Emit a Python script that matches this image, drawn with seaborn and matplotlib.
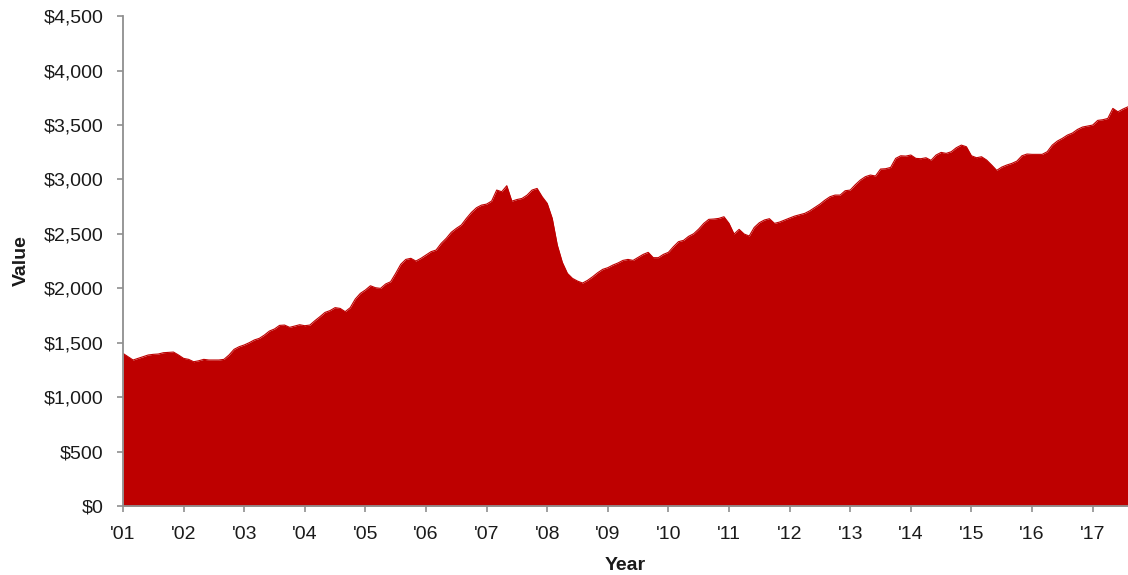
import numpy as np
import pandas as pd
import matplotlib
matplotlib.use("Agg")
import matplotlib.pyplot as plt
import seaborn as sns
from matplotlib.ticker import FuncFormatter

sns.set_style("white")
plt.rcParams["font.family"] = ["Liberation Sans", "DejaVu Sans"]

# monthly values, Jan 2001 .. Aug 2017
v2001 = [1402, 1371, 1341, 1356, 1371, 1387, 1393, 1396, 1408, 1411, 1414, 1387]
v2002 = [1356, 1347, 1325, 1334, 1347, 1341, 1341, 1341, 1347, 1387, 1439, 1463]
v2003 = [1479, 1500, 1525, 1540, 1570, 1607, 1626, 1659, 1662, 1641, 1653, 1665]
v2004 = [1656, 1662, 1702, 1739, 1778, 1795, 1822, 1815, 1785, 1822, 1901, 1953]
v2005 = [1984, 2023, 2005, 1999, 2039, 2060, 2137, 2220, 2265, 2275, 2250, 2275]
v2006 = [2305, 2336, 2351, 2412, 2458, 2514, 2550, 2581, 2642, 2697, 2740, 2764]
v2007 = [2773, 2801, 2902, 2887, 2942, 2800, 2815, 2825, 2855, 2902, 2917, 2841]
v2008 = [2780, 2642, 2397, 2238, 2137, 2091, 2066, 2048, 2073, 2106, 2143, 2174]
v2009 = [2189, 2213, 2232, 2256, 2265, 2256, 2284, 2311, 2330, 2281, 2281, 2311]
v2010 = [2330, 2382, 2428, 2440, 2477, 2501, 2544, 2596, 2633, 2636, 2642, 2657]
v2011 = [2596, 2498, 2541, 2498, 2480, 2559, 2602, 2627, 2639, 2596, 2608, 2627]
v2012 = [2645, 2663, 2676, 2688, 2712, 2743, 2773, 2810, 2841, 2856, 2856, 2896]
v2013 = [2902, 2951, 2994, 3025, 3040, 3031, 3095, 3098, 3110, 3193, 3217, 3214]
v2014 = [3224, 3193, 3190, 3199, 3175, 3224, 3248, 3239, 3254, 3291, 3315, 3300]
v2015 = [3217, 3199, 3208, 3178, 3132, 3083, 3113, 3132, 3147, 3168, 3217, 3233]
v2016 = [3230, 3230, 3230, 3254, 3315, 3352, 3377, 3407, 3426, 3459, 3481, 3490]
v2017 = [3499, 3542, 3548, 3560, 3652, 3621, 3646, 3667]

values = (v2001 + v2002 + v2003 + v2004 + v2005 + v2006 + v2007 + v2008 + v2009
          + v2010 + v2011 + v2012 + v2013 + v2014 + v2015 + v2016 + v2017)
tick_years = list(range(2001, 2018))
tick_labels = ["'%02d" % (y % 100) for y in tick_years]
y_ticks = list(range(0, 4501, 500))

df = pd.DataFrame({"year": 2001 + np.arange(len(values)) / 12, "value": values})

red = "#BE0000"
axis_gray = "#8f8f8f"

fig = plt.figure(figsize=(11.28, 5.75), dpi=100)
ax = fig.add_axes([0.109, 0.12, 0.891, 0.852])

ax.fill_between(df["year"], df["value"], color=red, linewidth=0, zorder=1)
sns.lineplot(data=df, x="year", y="value", color=red, linewidth=0.8, ax=ax, zorder=1)

ax.set_xlim(df["year"].iloc[0], df["year"].iloc[-1])
ax.set_ylim(0, 4500)
ax.set_xticks(tick_years)
ax.set_xticklabels(tick_labels)
ax.set_yticks(y_ticks)
ax.yaxis.set_major_formatter(FuncFormatter(lambda v, p: "${:,.0f}".format(v)))

for side in ["top", "right"]:
    ax.spines[side].set_visible(False)
for side in ["left", "bottom"]:
    ax.spines[side].set_color(axis_gray)
    ax.spines[side].set_linewidth(1.3)

ax.tick_params(axis="both", which="major", direction="out", length=4.5, width=1.2,
               color=axis_gray, labelsize=14, labelcolor="#1a1a1a")
ax.tick_params(axis="y", pad=9.5, left=True)
ax.tick_params(axis="x", pad=10, bottom=True)

ax.set_xlabel("Year", fontsize=14, fontweight="bold", color="#1a1a1a", labelpad=10)
ax.set_ylabel("Value", fontsize=14, fontweight="bold", color="#1a1a1a", labelpad=10)

fig.savefig("out.png", dpi=100)
